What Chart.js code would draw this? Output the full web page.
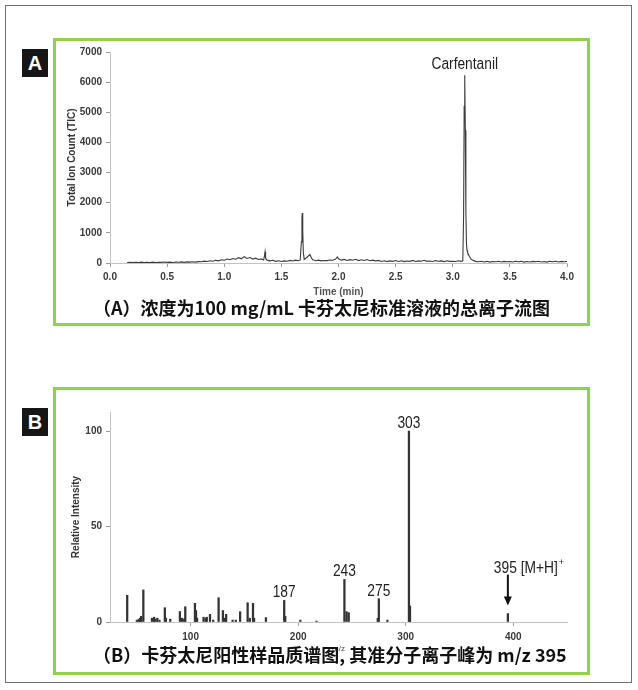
<!DOCTYPE html>
<html><head><meta charset="utf-8">
<script src="https://cdn.jsdelivr.net/npm/chart.js@4.4.1/dist/chart.umd.min.js"></script>
<style>
html,body{margin:0;padding:0;background:#fff;}
body{width:638px;height:690px;position:relative;overflow:hidden;font-family:"Liberation Sans",Arial,sans-serif;}
.frame{position:absolute;left:5px;top:5px;width:625px;height:676px;border:1.5px solid #6e6e6e;}
.green{position:absolute;border:3px solid #92d050;box-sizing:border-box;}
.tag{position:absolute;width:26px;height:28px;background:#161616;color:#fff;font:bold 20px "Liberation Sans",Arial,sans-serif;text-align:center;line-height:28px;}
.cap{position:absolute;left:93px;font:bold 18px "Noto Sans CJK SC",sans-serif;color:#111;white-space:nowrap;line-height:22px;}
canvas{position:absolute;}
</style></head><body>
<div class="frame"></div>
<div class="green" style="left:53px;top:38px;width:537px;height:288px"></div>
<div class="green" style="left:53px;top:387px;width:537px;height:288px"></div>
<div class="tag" style="left:22px;top:49px">A</div>
<div class="tag" style="left:22px;top:408px">B</div>
<canvas id="cA" width="531" height="284" style="left:56px;top:40px"></canvas>
<canvas id="cB" width="531" height="282" style="left:56px;top:390px"></canvas>
<div class="cap" style="top:296px">（A）浓度为100 mg/mL 卡芬太尼标准溶液的总离子流图</div>
<div class="cap" style="top:643px">（B）卡芬太尼阳性样品质谱图, 其准分子离子峰为 m/z 395</div>
<script>
// ---------- Panel A: total ion chromatogram ----------
const tcTime = [
  0.150,0.175,0.200,0.225,0.250,0.275,0.300,0.325,0.350,0.375,0.400,0.425,0.450,0.475,0.500,
  0.525,0.550,0.575,0.600,0.625,0.650,0.675,0.700,0.725,0.750,0.775,0.800,
  0.825,0.850,0.875,0.900,0.925,0.950,0.975,1.000,
  1.025,1.050,1.075,1.100,1.125,1.150,1.175,1.200,1.225,1.250,1.275,1.300,1.325,
  1.345,1.352,1.357,1.362,1.375,
  1.400,1.425,1.450,1.475,1.500,1.525,1.550,1.575,1.600,1.625,1.650,1.665,
  1.675,1.680,1.683,1.687,1.692,1.700,
  1.725,1.750,1.765,1.775,1.800,1.825,1.850,1.875,1.900,1.925,1.950,1.975,1.990,2.000,
  2.025,2.050,2.075,2.100,2.125,2.150,2.175,2.200,2.225,2.250,2.275,2.300,2.325,2.350,2.375,2.400,2.425,2.450,2.475,2.500,2.525,2.550,2.575,2.600,2.625,2.650,2.675,2.700,2.725,2.750,2.775,2.800,2.825,2.850,2.875,2.900,2.925,2.950,2.975,3.000,3.025,3.050,3.075,
  3.088,3.095,3.100,3.105,3.110,3.115,3.120,3.125,3.130,3.140,3.150,3.160,3.175,
  3.200,3.225,3.250,3.275,3.300,3.325,3.350,3.375,3.400,3.425,3.450,3.475,3.500,3.525,3.550,3.575,3.600,3.625,3.650,3.675,3.700,3.725,3.750,3.775,3.800,3.825,3.850,3.875,3.900,3.925,3.950,3.975,4.000
];
const tcCount = [
  15,22,12,25,18,28,14,24,19,30,16,26,20,32,22,
  30,18,34,24,38,22,36,30,42,28,46,40,
  62,48,75,60,88,72,105,90,
  130,110,150,125,175,140,210,150,180,130,160,115,135,
  100,240,370,150,95,
  70,90,55,75,50,70,60,85,65,95,75,100,
  700,1500,1660,1100,350,120,
  190,280,150,110,75,95,70,85,80,100,90,130,200,140,
  95,120,85,110,90,125,80,105,85,115,75,95,70,85,50,75,45,70,55,80,50,75,45,65,55,85,50,70,60,90,55,65,50,80,60,70,45,75,55,60,50,75,55,
  70,1600,5200,6230,4400,1700,650,420,350,270,190,130,90,
  55,40,60,35,55,30,50,40,60,35,55,40,50,35,60,40,55,30,50,35,55,40,60,35,50,30,55,40,60,35,55,40,50
];
const tcTicksX = [0, 0.5, 1.0, 1.5, 2.0, 2.5, 3.0, 3.5, 4.0];
const tcTicksY = [0, 1000, 2000, 3000, 4000, 5000, 6000, 7000];
const tcPeakLabel = 'Carfentanil';
const tcAxisTitles = ['Time (min)', 'Total Ion Count (TIC)'];

// ---------- Panel B: mass spectrum ----------
const msMz  = [41,50,52,53,54,56,64,66,67,69,71,76,77,81,90,92,94,95,104,105,106,112,114,115,118,121,126,130,132,133,139,142,146,153,155,158,159,170,187,188,202,217,243,245,247,274,275,283,303,304,395];
const msInt = [14,1,1.5,2,3,16.8,2,2.5,1.5,2,1,7.5,2,1.5,5.5,2,1.5,8,9.8,6,2,2.5,2,2.5,4,1,12.7,6,2,4,1,1,5.4,10.1,2,9.8,2,2.3,11.3,3,1,0.5,22.3,5.4,4.9,2,12.2,1,100,8.4,4.4];
const msLabeled = [187, 243, 275, 303];
const msParent = 395;
const msParentLabel = '395 [M+H]';
const msTicksX = [100, 200, 300, 400];
const msTicksY = [0, 50, 100];
const msAxisTitles = ['m/z', 'Relative Intensity'];

// ---------- helpers ----------
const AX_FONT = '"Liberation Sans", Arial, sans-serif';
function narrowText(ctx, text, x, y, align, size, sx) {
  ctx.save();
  ctx.font = size + 'px ' + AX_FONT;
  ctx.fillStyle = '#222';
  ctx.textAlign = align;
  ctx.textBaseline = 'alphabetic';
  ctx.translate(x, y);
  ctx.scale(sx, 1);
  ctx.fillText(text, 0, 0);
  const w = ctx.measureText(text).width * sx;
  ctx.restore();
  return w;
}
function axisOpts(ticksArr, fmt, fit, tickPad) {
  return {
    type: 'linear', offset: false,
    afterBuildTicks(s) { s.ticks = ticksArr.map(v => ({ value: v })); },
    afterFit: fit,
    grid: { drawOnChartArea: false, drawTicks: true, tickLength: 4, color: '#9a9a9a', offset: false },
    border: { color: '#c2c2c2', width: 1 },
    ticks: { padding: tickPad, color: '#3a3a3a', autoSkip: false, maxRotation: 0,
             font: { family: AX_FONT, size: 10, weight: 'bold' }, callback: fmt }
  };
}

const peakLabelA = {
  id: 'peakLabelA',
  afterDatasetsDraw(chart) {
    const { ctx, scales: { x, y } } = chart;
    const i = tcCount.indexOf(Math.max(...tcCount));
    narrowText(ctx, tcPeakLabel, x.getPixelForValue(tcTime[i]), y.getPixelForValue(tcCount[i]) - 6, 'center', 16, 0.86);
  }
};

const peakLabelB = {
  id: 'peakLabelB',
  afterDatasetsDraw(chart) {
    const { ctx, scales: { x, y } } = chart;
    msLabeled.forEach(m => {
      const i = msMz.indexOf(m);
      narrowText(ctx, String(m), x.getPixelForValue(m), y.getPixelForValue(msInt[i]) - 3, 'center', 16, 0.86);
    });
    const j = msMz.indexOf(msParent);
    const px = x.getPixelForValue(msParent);
    const top = y.getPixelForValue(msInt[j]);
    const tip = top - 8, start = top - 39;
    ctx.save();
    ctx.strokeStyle = '#111'; ctx.fillStyle = '#111'; ctx.lineWidth = 2;
    ctx.beginPath(); ctx.moveTo(px, start); ctx.lineTo(px, tip - 8); ctx.stroke();
    ctx.beginPath(); ctx.moveTo(px - 4, tip - 9); ctx.lineTo(px + 4, tip - 9); ctx.lineTo(px, tip); ctx.closePath(); ctx.fill();
    ctx.restore();
    const lx = px - 14, ly = start - 2;
    const w = narrowText(ctx, msParentLabel, lx, ly, 'left', 16, 0.86);
    narrowText(ctx, '+', lx + w + 1, ly - 8, 'left', 9, 1);
  }
};

new Chart(document.getElementById('cA'), {
  type: 'line',
  data: { datasets: [{
    data: tcTime.map((t, i) => ({ x: t, y: tcCount[i] })),
    borderColor: '#3c3c3c', borderWidth: 1.1, pointRadius: 0, tension: 0, fill: false
  }]},
  options: {
    responsive: false, animation: false, devicePixelRatio: 1,
    layout: { padding: { left: 0, right: 20, top: 12, bottom: 0 } },
    plugins: { legend: { display: false }, tooltip: { enabled: false } },
    scales: {
      x: Object.assign(axisOpts(tcTicksX, v => Number(v).toFixed(1), s => { s.height = 61; }, 4), {
        min: 0, max: 4,
        title: { display: true, text: tcAxisTitles[0], color: '#555', font: { family: AX_FONT, size: 10, weight: 'bold' }, padding: { top: 0, bottom: 26 } }
      }),
      y: Object.assign(axisOpts(tcTicksY, v => String(v), s => { s.width = 54; }, 4), {
        min: 0, max: 7000,
        title: { display: true, text: tcAxisTitles[1], color: '#333', font: { family: AX_FONT, size: 10, weight: 'bold' }, padding: { top: 10, bottom: 0 } }
      })
    }
  },
  plugins: [peakLabelA]
});

new Chart(document.getElementById('cB'), {
  type: 'bar',
  data: { datasets: [{
    data: msMz.map((m, i) => ({ x: m, y: msInt[i] })),
    backgroundColor: '#333', borderWidth: 0, barThickness: 1.6, grouped: false
  }]},
  options: {
    responsive: false, animation: false, devicePixelRatio: 1,
    layout: { padding: { left: 0, right: 20, top: 22, bottom: 0 } },
    plugins: { legend: { display: false }, tooltip: { enabled: false } },
    scales: {
      x: Object.assign(axisOpts(msTicksX, v => String(v), s => { s.height = 50; }, 5), {
        min: 25, max: 450,
        title: { display: true, text: msAxisTitles[0], color: '#444', font: { family: AX_FONT, size: 8 }, padding: { top: 0, bottom: 18 } }
      }),
      y: Object.assign(axisOpts(msTicksY, v => String(v), s => { s.width = 54; }, 4), {
        min: 0, max: 110,
        title: { display: true, text: msAxisTitles[1], color: '#333', font: { family: AX_FONT, size: 10, weight: 'bold' }, padding: { top: 14, bottom: 0 } }
      })
    }
  },
  plugins: [peakLabelB]
});
</script>
</body></html>
